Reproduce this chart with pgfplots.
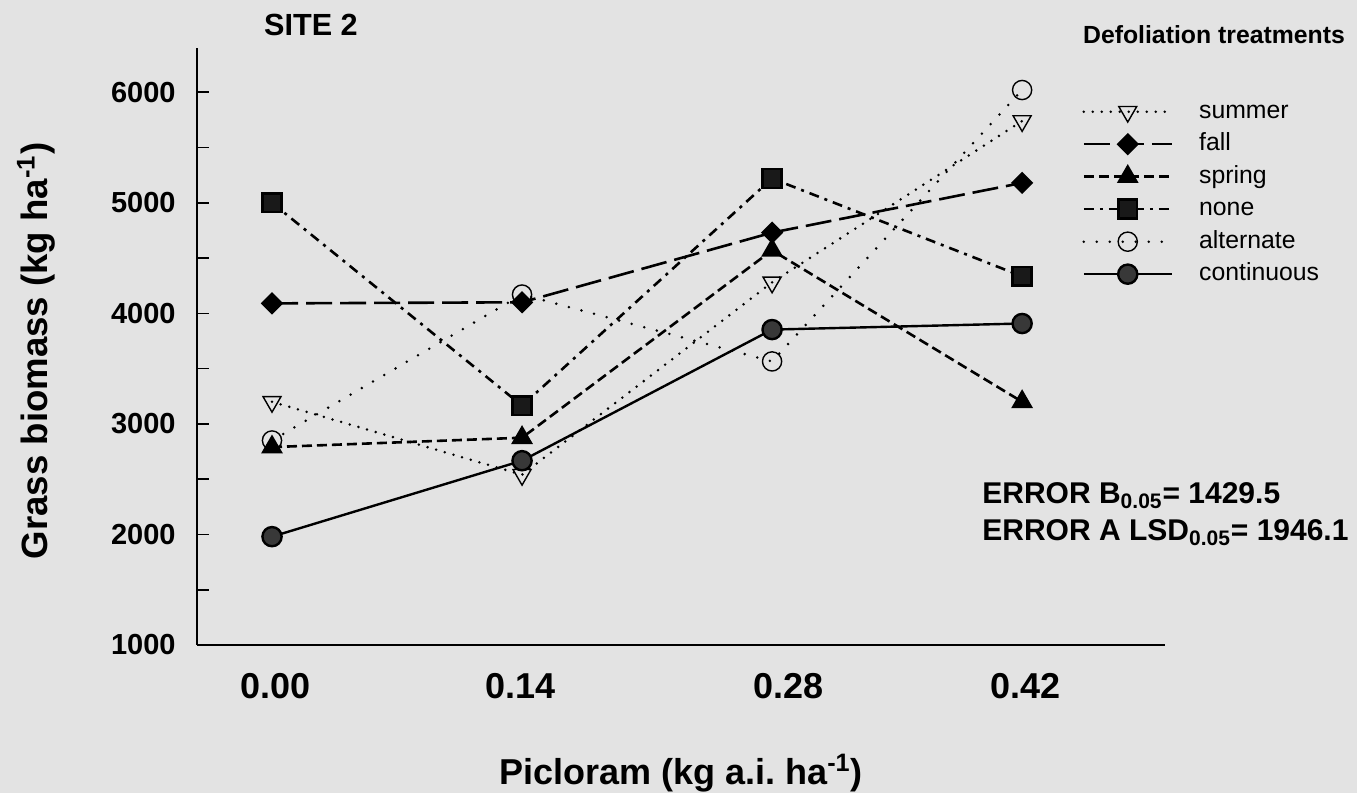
\documentclass[border=0pt]{standalone}
\usepackage{pgfplots}
\pgfplotsset{compat=1.18}
\usepackage{fontspec}
\setmainfont{Liberation Sans}
\definecolor{bg}{gray}{0.89}
\definecolor{mk}{gray}{0.22}
\definecolor{sq}{gray}{0.1}
\begin{document}
\begin{tikzpicture}
\fill[bg] (-98.5pt,-74pt) rectangle (580pt,322.5pt);
\useasboundingbox (-98.5pt,-74pt) rectangle (580pt,322.5pt);
\begin{axis}[
  at={(0pt,0pt)}, anchor=south west,
  scale only axis, width=484pt, height=298.5pt,
  xmin=-0.042, xmax=0.5, ymin=1000, ymax=6400,
  clip=false,
  axis lines*=left,
  axis line style={line width=1pt,-},
  xtick={0.002,0.1394,0.289,0.422},
  xticklabels={0.00,0.14,0.28,0.42},
  ytick={1000,2000,3000,4000,5000,6000},
  minor ytick={1500,2500,3500,4500,5500},
  tick align=inside,
  major tick length=6pt, minor tick length=6pt,
  xtick style={draw=none},
  ytick style={line width=0.8pt, black},
  minor tick style={line width=0.8pt, black},
  scaled y ticks=false,
  /pgf/number format/1000 sep={},
  /pgf/number format/assume math mode=true,
  tick label style={inner sep=0pt},
  xticklabel style={font=\bfseries\fontsize{18}{20}\selectfont, anchor=north},
  yticklabel style={font=\bfseries\fontsize{14.5}{16}\selectfont, anchor=east},
  xticklabel shift=14pt,
  yticklabel shift=10.5pt,
  xlabel={Picloram (kg a.i.\ ha\textsuperscript{-1})},
  xlabel style={at={(axis description cs:0.5,0)}, anchor=center, yshift=-64pt, font=\bfseries\fontsize{18}{20}\selectfont},
  ylabel={Grass biomass (kg ha\textsuperscript{-1})},
  ylabel style={at={(axis description cs:-0.1663,0.4925)}, anchor=center, font=\bfseries\fontsize{18.3}{20}\selectfont},
  legend image code/.code={\draw[mark repeat=2,mark phase=2,#1] plot coordinates {(0pt,0pt) (22pt,0pt) (44pt,0pt)};},
  legend cell align=left,
  legend style={draw=none, fill=none, at={(0.908,0.92)}, anchor=north west,
    font=\fontsize{12.4}{14}\selectfont,
    nodes={inner sep=0pt, text height=9pt, text depth=2.5pt},
    row sep=4.75pt,
    /tikz/every odd column/.append style={column sep=13pt}},
]
\addplot[black, line width=1.4pt, line cap=round, dash pattern=on 0pt off 4.5pt,
  mark=triangle, mark options={solid, fill=bg, rotate=180, mark size=5.2pt, line width=0.7pt}]
  coordinates {(0,3200) (0.14,2540) (0.28,4280) (0.42,5740)};
\addlegendentry{summer}
\addplot[black, line width=1.3pt, dash pattern=on 13pt off 4pt,
  mark=square*, mark options={solid, fill=black, rotate=45, mark size=3.3pt}]
  coordinates {(0,4090) (0.14,4100) (0.28,4730) (0.42,5180)};
\addlegendentry{fall}
\addplot[black, line width=1.3pt, dash pattern=on 5pt off 2.5pt,
  mark=triangle*, mark options={solid, fill=black, mark size=5pt}]
  coordinates {(0,2790) (0.14,2875) (0.28,4570) (0.42,3200)};
\addlegendentry{spring}
\addplot[black, line width=1.3pt, dash pattern=on 5pt off 3pt on 1.5pt off 3pt,
  mark=square*, mark options={solid, fill=sq, mark size=4.7pt}]
  coordinates {(0,5000) (0.14,3165) (0.28,5220) (0.42,4335)};
\addlegendentry{none}
\addplot[black, line width=1.4pt, line cap=round, dash pattern=on 0pt off 6.5pt,
  mark=o, mark options={solid, fill=bg, mark size=4.8pt, line width=0.7pt}]
  coordinates {(0,2850) (0.14,4170) (0.28,3565) (0.42,6020)};
\addlegendentry{alternate}
\addplot[black, line width=1.2pt,
  mark=*, mark options={solid, fill=mk, mark size=4.8pt}]
  coordinates {(0,1980) (0.14,2667) (0.28,3853) (0.42,3908)};
\addlegendentry{continuous}
\end{axis}
\node[font=\bfseries\fontsize{15.3}{18}\selectfont] at (57pt,310pt) {SITE 2};
\node[font=\bfseries\fontsize{12.4}{15}\selectfont] at (508.5pt,305pt) {Defoliation treatments};
\node[anchor=west, inner sep=0pt, font=\bfseries\fontsize{15}{18}\selectfont] at (392.5pt,74.5pt) {ERROR B\textsubscript{0.05}= 1429.5};
\node[anchor=west, inner sep=0pt, font=\bfseries\fontsize{15}{18}\selectfont] at (392.5pt,56pt) {ERROR A LSD\textsubscript{0.05}= 1946.1};
\end{tikzpicture}
\end{document}
